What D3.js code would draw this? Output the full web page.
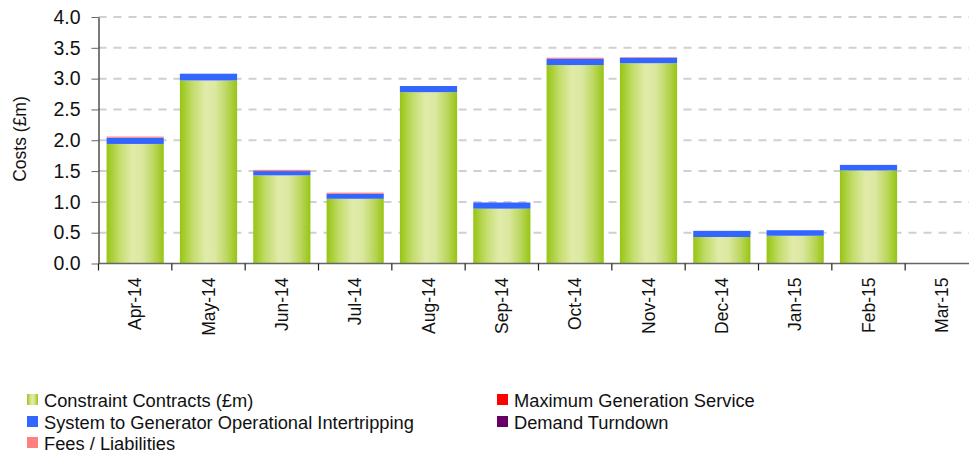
<!DOCTYPE html>
<html>
<head>
<meta charset="utf-8">
<script src="https://cdn.jsdelivr.net/npm/d3@7"></script>
<style>
  html, body { margin: 0; padding: 0; background: #fff; }
  svg { display: block; font-family: "Liberation Sans", Arial, sans-serif; }
</style>
</head>
<body>
<svg id="chart" width="969" height="453"></svg>
<script>
// Monthly balancing service costs (£m)
const months = ["Apr-14","May-14","Jun-14","Jul-14","Aug-14","Sep-14","Oct-14","Nov-14","Dec-14","Jan-15","Feb-15","Mar-15"];
const constraintContracts = [1.94, 2.97, 1.43, 1.05, 2.78, 0.89, 3.22, 3.25, 0.43, 0.45, 1.51, 0];
const sgoi                = [0.10, 0.11, 0.07, 0.08, 0.10, 0.10, 0.10, 0.09, 0.10, 0.09, 0.09, 0];
const maxGeneration       = [0, 0, 0, 0, 0, 0, 0, 0, 0, 0, 0, 0];
const demandTurndown      = [0, 0, 0, 0, 0, 0, 0, 0, 0, 0, 0, 0];
const feesLiabilities     = [0.02, 0, 0.02, 0.02, 0, 0, 0.02, 0.01, 0, 0, 0, 0];
const yTicks = [0, 0.5, 1.0, 1.5, 2.0, 2.5, 3.0, 3.5, 4.0];

const seriesNames = ["Constraint Contracts (£m)", "System to Generator Operational Intertripping",
  "Maximum Generation Service", "Demand Turndown", "Fees / Liabilities"];
const seriesKeys = ["cc", "sgoi", "mgs", "dt", "fees"];
const seriesColors = { cc: "url(#ccGrad)", sgoi: "#3366ff", mgs: "#ff0000", dt: "#660066", fees: "#ff8080" };

const rows = months.map((m, i) => ({
  month: m, cc: constraintContracts[i], sgoi: sgoi[i], mgs: maxGeneration[i],
  dt: demandTurndown[i], fees: feesLiabilities[i]
}));
// stack order bottom-to-top: constraint, SGOI, max gen, demand turndown, fees
const stacked = d3.stack().keys(seriesKeys)(rows);

const svg = d3.select("#chart");
const defs = svg.append("defs");
const grad = defs.append("linearGradient").attr("id", "ccGrad")
  .attr("x1", "0%").attr("x2", "100%").attr("y1", "0%").attr("y2", "0%");
[[0, "#97c512"], [0.22, "#c2dc6a"], [0.45, "#e1ebaa"], [0.62, "#dbe8a0"], [0.82, "#bcd760"], [1, "#97c512"]]
  .forEach(([o, c]) => grad.append("stop").attr("offset", o).attr("stop-color", c));

const plotLeft = 98.5, plotRight = 978.5, plotTop = 17, plotBottom = 263.5;
const x = d3.scaleBand().domain(months).range([plotLeft, plotRight]).paddingInner(0.22).paddingOuter(0.11);
const y = d3.scaleLinear().domain([0, 4]).range([plotBottom, plotTop]);

// dashed gridlines
svg.append("g").selectAll("line").data(yTicks.filter(t => t > 0)).join("line")
  .attr("x1", plotLeft).attr("x2", 969)
  .attr("y1", d => y(d)).attr("y2", d => y(d))
  .attr("stroke", "#d0d0d0").attr("stroke-width", 2).attr("stroke-dasharray", "8,7");

// stacked bars
const layers = svg.append("g").selectAll("g").data(stacked).join("g")
  .attr("fill", d => seriesColors[d.key]);
layers.selectAll("rect").data(d => d.filter(p => p[1] - p[0] > 0)).join("rect")
  .attr("x", d => x(d.data.month))
  .attr("width", x.bandwidth())
  .attr("y", d => y(d[1]))
  .attr("height", d => y(d[0]) - y(d[1]));

// y axis
const yAxis = svg.append("g").attr("transform", `translate(${plotLeft},0)`)
  .call(d3.axisLeft(y).tickValues(yTicks).tickFormat(d3.format(".1f")).tickSize(7).tickSizeOuter(0));
yAxis.select(".domain").attr("stroke", "#222").attr("stroke-width", 1.2);
yAxis.selectAll(".tick line").attr("stroke", "#666");
yAxis.selectAll(".tick text").attr("x", -18).attr("font-size", 19.5).attr("fill", "#111")
  .attr("font-family", "Liberation Sans, Arial, sans-serif");

// x axis with ticks at category boundaries
const xAxisG = svg.append("g");
xAxisG.append("line").attr("x1", plotLeft).attr("x2", 969).attr("y1", plotBottom).attr("y2", plotBottom)
  .attr("stroke", "#666").attr("stroke-width", 1.6);
const step = x.step();
xAxisG.selectAll("line.tk").data(months).join("line").attr("class", "tk")
  .attr("x1", d => x(d) - x.paddingOuter() * step).attr("x2", d => x(d) - x.paddingOuter() * step)
  .attr("y1", plotBottom).attr("y2", plotBottom + 7).attr("stroke", "#222").attr("stroke-width", 1.2);
xAxisG.selectAll("text").data(months).join("text")
  .attr("transform", d => `translate(${x(d) + x.bandwidth() / 2 + 6},${plotBottom + 14}) rotate(-90)`)
  .attr("text-anchor", "end").attr("font-size", 17.5).attr("fill", "#111")
  .text(d => d);

// y axis title
svg.append("text").attr("transform", "translate(26,139) rotate(-90)")
  .attr("text-anchor", "middle").attr("font-size", 17.5).attr("fill", "#111").text("Costs (£m)");

// legend
const legendPos = [
  { key: "cc", x: 27, y: 400 }, { key: "sgoi", x: 27, y: 422 }, { key: "fees", x: 27, y: 443 },
  { key: "mgs", x: 497, y: 400 }, { key: "dt", x: 497, y: 422 }
];
const legend = svg.append("g").selectAll("g").data(legendPos).join("g")
  .attr("transform", d => `translate(${d.x},${d.y})`);
legend.append("rect").attr("x", 0).attr("y", -6).attr("width", 11).attr("height", 11)
  .attr("fill", d => seriesColors[d.key]);
legend.append("text").attr("x", 17).attr("y", 6.5).attr("font-size", 18.3).attr("fill", "#111")
  .text(d => seriesNames[seriesKeys.indexOf(d.key)]);
</script>
</body>
</html>
